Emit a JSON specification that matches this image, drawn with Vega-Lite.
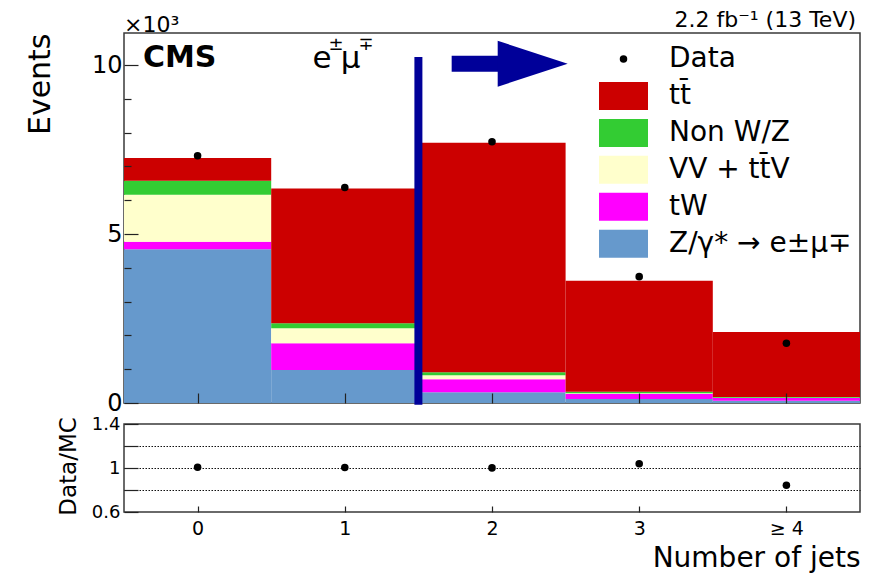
{
  "$schema": "https://vega.github.io/schema/vega-lite/v6.json",
  "background": "white",
  "padding": {"left": 24, "top": 8, "right": 0, "bottom": 0},
  "config": {
    "font": "DejaVu Sans",
    "view": {"stroke": "#3a3a3a", "strokeWidth": 1.5},
    "axis": {
      "domain": false,
      "grid": false,
      "labelColor": "black",
      "titleColor": "black",
      "tickColor": "#222222",
      "tickWidth": 1.2,
      "tickCount": 20,
      "labelFont": "DejaVu Sans",
      "titleFont": "DejaVu Sans",
      "titleFontWeight": "normal",
      "labelFlush": false,
      "labelOverlap": false,
      "zindex": 1
    }
  },
  "datasets": {
    "mc": [
      {"njets": 0, "bin_lo": -0.5, "bin_hi": 0.5, "process": "Z/\u03b3* \u2192 e\u00b1\u03bc\u2213", "stackorder": 1, "events": 4550},
      {"njets": 0, "bin_lo": -0.5, "bin_hi": 0.5, "process": "tW", "stackorder": 2, "events": 220},
      {"njets": 0, "bin_lo": -0.5, "bin_hi": 0.5, "process": "VV + tt\u0304V", "stackorder": 3, "events": 1390},
      {"njets": 0, "bin_lo": -0.5, "bin_hi": 0.5, "process": "Non W/Z", "stackorder": 4, "events": 420},
      {"njets": 0, "bin_lo": -0.5, "bin_hi": 0.5, "process": "tt\u0304", "stackorder": 5, "events": 670},
      {"njets": 1, "bin_lo": 0.5, "bin_hi": 1.5, "process": "Z/\u03b3* \u2192 e\u00b1\u03bc\u2213", "stackorder": 1, "events": 980},
      {"njets": 1, "bin_lo": 0.5, "bin_hi": 1.5, "process": "tW", "stackorder": 2, "events": 790},
      {"njets": 1, "bin_lo": 0.5, "bin_hi": 1.5, "process": "VV + tt\u0304V", "stackorder": 3, "events": 440},
      {"njets": 1, "bin_lo": 0.5, "bin_hi": 1.5, "process": "Non W/Z", "stackorder": 4, "events": 150},
      {"njets": 1, "bin_lo": 0.5, "bin_hi": 1.5, "process": "tt\u0304", "stackorder": 5, "events": 3990},
      {"njets": 2, "bin_lo": 1.5, "bin_hi": 2.5, "process": "Z/\u03b3* \u2192 e\u00b1\u03bc\u2213", "stackorder": 1, "events": 320},
      {"njets": 2, "bin_lo": 1.5, "bin_hi": 2.5, "process": "tW", "stackorder": 2, "events": 380},
      {"njets": 2, "bin_lo": 1.5, "bin_hi": 2.5, "process": "VV + tt\u0304V", "stackorder": 3, "events": 120},
      {"njets": 2, "bin_lo": 1.5, "bin_hi": 2.5, "process": "Non W/Z", "stackorder": 4, "events": 90},
      {"njets": 2, "bin_lo": 1.5, "bin_hi": 2.5, "process": "tt\u0304", "stackorder": 5, "events": 6790},
      {"njets": 3, "bin_lo": 2.5, "bin_hi": 3.5, "process": "Z/\u03b3* \u2192 e\u00b1\u03bc\u2213", "stackorder": 1, "events": 120},
      {"njets": 3, "bin_lo": 2.5, "bin_hi": 3.5, "process": "tW", "stackorder": 2, "events": 150},
      {"njets": 3, "bin_lo": 2.5, "bin_hi": 3.5, "process": "VV + tt\u0304V", "stackorder": 3, "events": 20},
      {"njets": 3, "bin_lo": 2.5, "bin_hi": 3.5, "process": "Non W/Z", "stackorder": 4, "events": 45},
      {"njets": 3, "bin_lo": 2.5, "bin_hi": 3.5, "process": "tt\u0304", "stackorder": 5, "events": 3285},
      {"njets": 4, "bin_lo": 3.5, "bin_hi": 4.5, "process": "Z/\u03b3* \u2192 e\u00b1\u03bc\u2213", "stackorder": 1, "events": 65},
      {"njets": 4, "bin_lo": 3.5, "bin_hi": 4.5, "process": "tW", "stackorder": 2, "events": 80},
      {"njets": 4, "bin_lo": 3.5, "bin_hi": 4.5, "process": "VV + tt\u0304V", "stackorder": 3, "events": 10},
      {"njets": 4, "bin_lo": 3.5, "bin_hi": 4.5, "process": "Non W/Z", "stackorder": 4, "events": 25},
      {"njets": 4, "bin_lo": 3.5, "bin_hi": 4.5, "process": "tt\u0304", "stackorder": 5, "events": 1920}
    ],
    "observed": [
      {"njets": 0, "events": 7320, "ratio": 1.006},
      {"njets": 1, "events": 6380, "ratio": 1.005},
      {"njets": 2, "events": 7730, "ratio": 1.001},
      {"njets": 3, "events": 3740, "ratio": 1.039},
      {"njets": 4, "events": 1770, "ratio": 0.843}
    ]
  },
  "spacing": -2,
  "resolve": {"legend": {"color": "independent"}},
  "vconcat": [
    {
      "width": 736,
      "height": 370,
      "layer": [
        {
          "data": {"name": "mc"},
          "transform": [
            {"stack": "events", "groupby": ["njets"], "sort": [{"field": "stackorder", "order": "ascending"}], "as": ["cum_lo", "cum_hi"]}
          ],
          "mark": {"type": "rect"},
          "encoding": {
            "x": {
              "field": "bin_lo", "type": "quantitative",
              "scale": {"domain": [-0.5, 4.5], "nice": false, "zero": false},
              "axis": {"values": [0, 1, 2, 3, 4], "tickCount": 20, "labels": false, "tickSize": -10, "title": null, "zindex": 1}
            },
            "x2": {"field": "bin_hi"},
            "y": {
              "field": "cum_lo", "type": "quantitative",
              "scale": {"domain": [0, 10950], "nice": false, "zero": false},
              "axis": {
                "values": [0, 1000, 2000, 3000, 4000, 5000, 6000, 7000, 8000, 9000, 10000],
                "tickCount": 20,
                "labelExpr": "datum.value % 5000 === 0 ? format(datum.value / 1000, 'd') : ''",
                "labelOverlap": false,
                "zindex": 1,
                "tickSize": {"condition": {"test": "datum.value % 5000 === 0", "value": -14}, "value": -7},
                "labelFontSize": 24,
                "labelPadding": 16,
                "title": "Events",
                "titleFontSize": 30,
                "titleAngle": 270,
                "titleX": -75,
                "titleY": 0,
                "titleAlign": "right",
                "titleBaseline": "alphabetic"
              }
            },
            "y2": {"field": "cum_hi"},
            "color": {
              "field": "process", "type": "nominal",
              "scale": {
                "domain": ["Data", "tt\u0304", "Non W/Z", "VV + tt\u0304V", "tW", "Z/\u03b3* \u2192 e\u00b1\u03bc\u2213"],
                "range": ["#000000", "#CC0000", "#33CC33", "#FFFFCC", "#FF00FF", "#6699CC"]
              },
              "legend": {
                "orient": "none",
                "legendX": 485.5,
                "legendY": 12,
                "title": null,
                "direction": "vertical",
                "padding": 0,
                "labelFont": "DejaVu Sans",
                "labelFontSize": 28,
                "labelColor": "black",
                "labelOffset": 31.5,
                "labelLimit": 400,
                "symbolSize": 784,
                "symbolType": "M-1.75,-1H1.75V1H-1.75Z",
                "symbolStrokeWidth": 0,
                "symbolOpacity": 1,
                "rowPadding": 8.95,
                "encode": {
                  "symbols": {
                    "update": {
                      "shape": {"signal": "datum.value === 'Data' ? 'circle' : 'M-1.75,-1H1.75V1H-1.75Z'"},
                      "size": {"signal": "datum.value === 'Data' ? 56 : 784"}
                    }
                  }
                }
              }
            }
          }
        },
        {
          "data": {"name": "observed"},
          "mark": {"type": "point", "filled": true, "color": "black", "size": 57, "opacity": 1},
          "encoding": {
            "x": {"field": "njets", "type": "quantitative"},
            "y": {"field": "events", "type": "quantitative"}
          }
        },
        {
          "data": {"values": [{"edge": 1.5, "lo": -50, "hi": 10240}]},
          "mark": {"type": "rule", "color": "#000099", "strokeWidth": 8, "strokeCap": "butt"},
          "encoding": {
            "x": {"field": "edge", "type": "quantitative"},
            "y": {"field": "lo", "type": "quantitative"},
            "y2": {"field": "hi"}
          }
        },
        {
          "data": {"values": [{"from": 1.726, "to": 2.05, "level": 10040}]},
          "mark": {"type": "rule", "color": "#000099", "strokeWidth": 16, "strokeCap": "butt"},
          "encoding": {
            "x": {"field": "from", "type": "quantitative"},
            "x2": {"field": "to"},
            "y": {"field": "level", "type": "quantitative"}
          }
        },
        {
          "data": {"values": [{"head": 2.2765, "level": 10040}]},
          "mark": {"type": "point", "filled": true, "color": "#000099", "opacity": 1, "size": 4900, "shape": "M-1,-0.657L1,0L-1,0.657Z"},
          "encoding": {
            "x": {"field": "head", "type": "quantitative"},
            "y": {"field": "level", "type": "quantitative"}
          }
        },
        {
          "data": {"values": [{"label": "CMS", "x": -0.371, "y": 9940}]},
          "mark": {"type": "text", "align": "left", "baseline": "alphabetic", "fontSize": 30, "fontWeight": "bold", "font": "DejaVu Sans", "color": "black"},
          "encoding": {
            "x": {"field": "x", "type": "quantitative"},
            "y": {"field": "y", "type": "quantitative"},
            "text": {"field": "label"}
          }
        },
        {
          "data": {"values": [{"label": "e", "x": 0.781, "y": 9902}, {"label": "\u03bc", "x": 0.972, "y": 9902}]},
          "mark": {"type": "text", "align": "left", "baseline": "alphabetic", "fontSize": 31, "font": "DejaVu Sans", "color": "black"},
          "encoding": {
            "x": {"field": "x", "type": "quantitative"},
            "y": {"field": "y", "type": "quantitative"},
            "text": {"field": "label"}
          }
        },
        {
          "data": {"values": [{"label": "\u00b1", "x": 0.89, "y": 10444}, {"label": "\u2213", "x": 1.093, "y": 10444}]},
          "mark": {"type": "text", "align": "left", "baseline": "alphabetic", "fontSize": 18, "font": "DejaVu Sans", "color": "black"},
          "encoding": {
            "x": {"field": "x", "type": "quantitative"},
            "y": {"field": "y", "type": "quantitative"},
            "text": {"field": "label"}
          }
        },
        {
          "data": {"values": [{"label": "\u00d710\u00b3", "x": -0.5, "y": 10990}]},
          "mark": {"type": "text", "align": "left", "baseline": "alphabetic", "fontSize": 22, "font": "DejaVu Sans", "color": "black"},
          "encoding": {
            "x": {"field": "x", "type": "quantitative"},
            "y": {"field": "y", "type": "quantitative"},
            "text": {"field": "label"}
          }
        },
        {
          "data": {"values": [{"label": "2.2 fb\u207b\u00b9 (13 TeV)", "x": 4.473, "y": 11133}]},
          "mark": {"type": "text", "align": "right", "baseline": "alphabetic", "fontSize": 22, "font": "DejaVu Sans", "color": "black"},
          "encoding": {
            "x": {"field": "x", "type": "quantitative"},
            "y": {"field": "y", "type": "quantitative"},
            "text": {"field": "label"}
          }
        }
      ]
    },
    {
      "width": 736,
      "height": 88,
      "data": {"name": "observed"},
      "mark": {"type": "point", "filled": true, "color": "black", "size": 57, "opacity": 1},
      "encoding": {
        "x": {
          "field": "njets", "type": "quantitative",
          "scale": {"domain": [-0.5, 4.5], "nice": false, "zero": false},
          "axis": {
            "values": [0, 1, 2, 3, 4],
            "tickCount": 20,
            "labelExpr": "datum.value === 4 ? '\u2265 4' : format(datum.value, 'd')",
            "tickSize": -6,
            "labelFontSize": 19,
            "labelPadding": 13,
            "title": "Number of jets",
            "titleFontSize": 28,
            "titleX": 736,
            "titleY": 54.7,
            "titleAlign": "right",
            "titleAnchor": "end",
            "titleBaseline": "alphabetic"
          }
        },
        "y": {
          "field": "ratio", "type": "quantitative",
          "scale": {"domain": [0.6, 1.4], "nice": false, "zero": false},
          "axis": {
            "values": [0.6, 0.8, 1, 1.2, 1.4],
            "tickCount": 20,
            "labelExpr": "datum.value > 0.7 && datum.value < 0.9 || datum.value > 1.1 && datum.value < 1.3 ? '' : format(datum.value, '~g')",
            "labelOverlap": false,
            "grid": true,
            "gridDash": [1.5, 1.5],
            "gridColor": "#111111",
            "gridWidth": 1,
            "gridOpacity": {"condition": {"test": "datum.value > 0.7 && datum.value < 1.3", "value": 1}, "value": 0},
            "tickSize": -14,
            "labelFontSize": 18,
            "labelPadding": 18,
            "title": "Data/MC",
            "titleFontSize": 23,
            "titleAngle": 270,
            "titleX": -48.5,
            "titleY": 42,
            "titleAlign": "center",
            "titleBaseline": "alphabetic"
          }
        }
      }
    }
  ]
}
